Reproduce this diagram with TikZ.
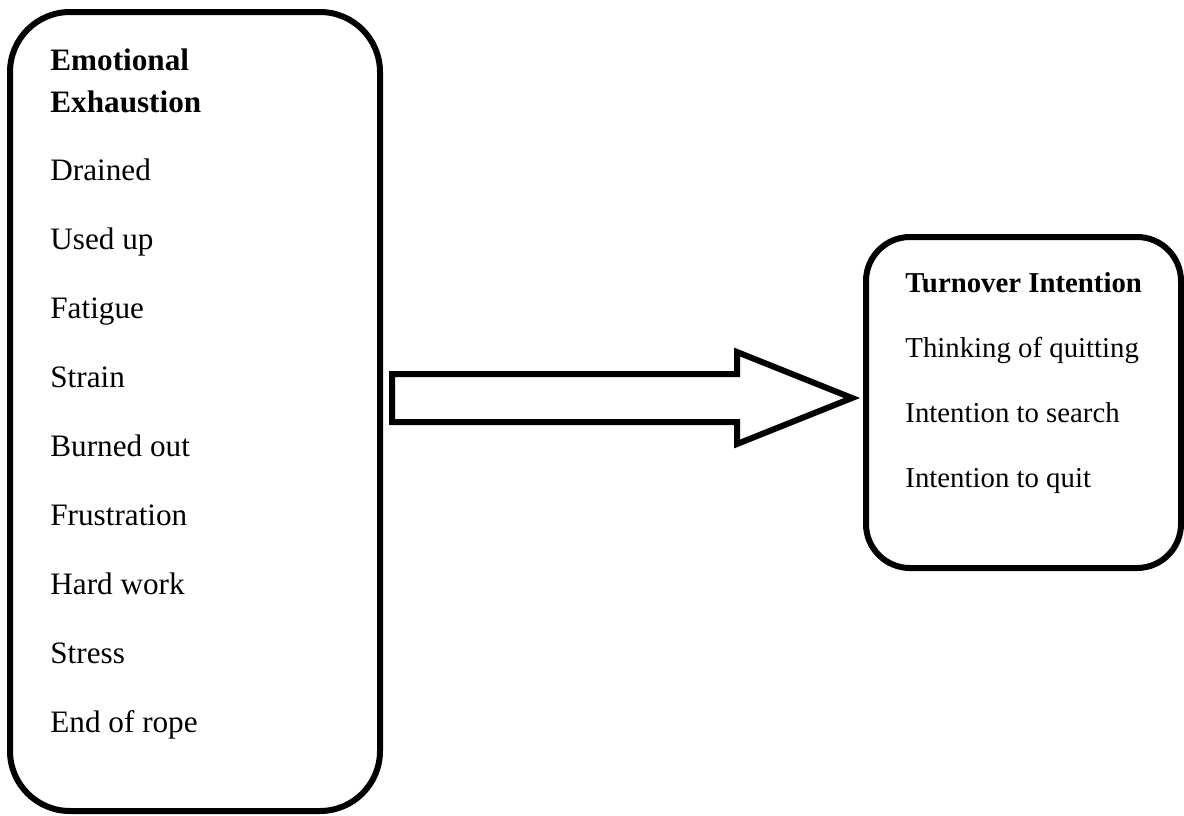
\documentclass[tikz,border=0pt]{standalone}
\usepackage{fontspec}
\setmainfont{Liberation Serif}
\usetikzlibrary{positioning,calc}

\begin{document}
\begin{tikzpicture}[
x=0.5pt, y=-0.5pt,
panel/.style={draw, line width=3pt, rectangle, inner sep=0pt},
lhead/.style={anchor=base west, inner sep=0pt, align=left, font=\bfseries\fontsize{15.6}{21}\selectfont},
litem/.style={anchor=base west, inner sep=0pt, font=\fontsize{15.6}{19}\selectfont},
rhead/.style={anchor=base west, inner sep=0pt, font=\bfseries\fontsize{14.4}{18}\selectfont},
ritem/.style={anchor=base west, inner sep=0pt, font=\fontsize{14.4}{18}\selectfont},
blockarrow/.style={draw, line width=3pt, miter limit=10}
]
\useasboundingbox (0,0) rectangle (1184,815);
% the two boxes
\node[panel, minimum width=185pt, minimum height=399.5pt, rounded corners=30pt] (emobox) at (195,411.5) {};
\node[panel, minimum width=157.5pt, minimum height=165.5pt, rounded corners=22pt] (tibox) at (1023.5,402.5) {};
% left list
\node[lhead] (emo) at (50,112) {Emotional\\Exhaustion};
\node[litem] (e1) at (50,180) {Drained};
\node[litem, below=34.5pt of e1.base west, anchor=base west] (e2) {Used up};
\node[litem, below=34.5pt of e2.base west, anchor=base west] (e3) {Fatigue};
\node[litem, below=34.5pt of e3.base west, anchor=base west] (e4) {Strain};
\node[litem, below=34.5pt of e4.base west, anchor=base west] (e5) {Burned out};
\node[litem, below=34.5pt of e5.base west, anchor=base west] (e6) {Frustration};
\node[litem, below=34.5pt of e6.base west, anchor=base west] (e7) {Hard work};
\node[litem, below=34.5pt of e7.base west, anchor=base west] (e8) {Stress};
\node[litem, below=34.5pt of e8.base west, anchor=base west] (e9) {End of rope};
% right list
\node[rhead] (ti) at (905,292) {Turnover Intention};
\node[ritem, below=32.5pt of ti.base west, anchor=base west] (t1) {Thinking of quitting};
\node[ritem, below=32.5pt of t1.base west, anchor=base west] (t2) {Intention to search};
\node[ritem, below=32.5pt of t2.base west, anchor=base west] (t3) {Intention to quit};
% block arrow between the boxes
\coordinate (tail) at ($(emobox.east |- 0,398)+(9,0)$);
\coordinate (tip) at ($(tibox.west)+(-11,-4.5)$);
\draw[blockarrow] ($(tail)+(0,-24)$) -- ($(tip)+(-115,-24)$) -- ($(tip)+(-115,-46)$) -- (tip)
  -- ($(tip)+(-115,46)$) -- ($(tip)+(-115,24)$) -- ($(tail)+(0,24)$) -- cycle;
\end{tikzpicture}
\end{document}
